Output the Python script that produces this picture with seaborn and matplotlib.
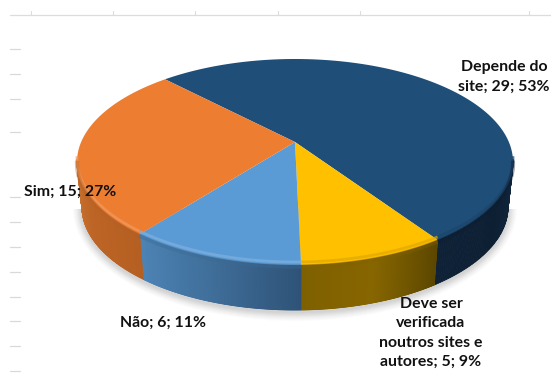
import numpy as np
import matplotlib
matplotlib.use("Agg")
import matplotlib.pyplot as plt
import seaborn as sns

# Clockwise order around the pie, starting at the navy slice
labels = ["Depende do\nsite; 29; 53%",
          "Deve ser\nverificada\nnoutros sites e\nautores; 5; 9%",
          "Não; 6; 11%", "Sim; 15; 27%"]
values = [29, 5, 6, 15]
colors = ["#1f4e79", "#ffc000", "#5b9bd5", "#ed7d31"]
wall_left = ["#0e2136", "#7f6000", "#4d84b6", "#cc7430"]
wall_mid = ["#0d1f33", "#876600", "#3f6e99", "#bd6526"]
wall_right = ["#11263d", "#5c4700", "#2f5378", "#b55f22"]
label_xy = [(504, 77), (431, 333), (163, 323), (70, 192)]
top_ticks = [31, 113, 195, 278, 360, 529]
left_ticks = [49, 74, 99, 132, 197, 222, 247, 272, 297, 321, 346, 371]

sns.set_theme(style="white")
plt.rcParams["font.family"] = ["Lato", "DejaVu Sans"]

fig = plt.figure(figsize=(5.51, 3.76), dpi=100)
ax = fig.add_axes([0, 0, 1, 1])
ax.set_xlim(0, 551)
ax.set_ylim(376, 0)
ax.axis("off")

cx, cy, rx, ry = 295, 162, 218, 103
bcx, bcy, brx, bry = 295, 207, 213, 103
c = 0.194
rotation = 1.3


def project(theta_deg):
    t = np.radians(theta_deg)
    u, v = np.cos(t), np.sin(t)
    den = 1 + c * v
    return u * np.sqrt(1 - c ** 2) / den, (v + c) / den


def blend(a, b, f):
    a = np.array(matplotlib.colors.to_rgb(a))
    b = np.array(matplotlib.colors.to_rgb(b))
    return tuple(a + (b - a) * f)


# Frame remnants
ax.plot([10, 551], [14.5, 14.5], color="#dcdcdc", lw=0.9)
for x in top_ticks:
    ax.plot([x, x], [11, 14.5], color="#dcdcdc", lw=0.8)
for y in left_ticks:
    ax.plot([10, 20], [y, y], color="#d9d9d9", lw=0.9)

# Soft shadow
t = np.linspace(np.pi, 2 * np.pi, 200)
for grow, alpha in zip(np.linspace(9, 1, 9), [0.02] * 4 + [0.035] * 5):
    ax.fill(bcx + (brx + grow) * np.cos(t), bcy + 2 - (bry + grow) * np.sin(t),
            color="#555555", alpha=alpha, lw=0, zorder=1)

# Slices run clockwise; the yellow/blue edge points almost straight down
shares = np.array(values) / sum(values) * 360
start = -90 + shares[1] + shares[0] + rotation
edges = start - np.r_[0, np.cumsum(shares)]

for i, val in enumerate(values):
    ang = np.linspace(edges[i], edges[i + 1], 300)
    pu, pv = project(ang)
    xs, ys = cx + rx * pu, cy - ry * pv
    mask = pv <= 0.03
    if mask.any():
        xt, yt = xs[mask], ys[mask]
        order = np.argsort(xt)
        xt, yt = xt[order], yt[order]
        xb = bcx + (xt - cx) * brx / rx
        yb = bcy + (yt - cy)
        n = len(xt) - 1
        for j in range(n):
            f = j / max(1, n - 1)
            col = (blend(wall_left[i], wall_mid[i], f * 2) if f < 0.5
                   else blend(wall_mid[i], wall_right[i], f * 2 - 1))
            ax.fill([xt[j], xt[j + 1], xb[j + 1], xb[j]],
                    [yt[j], yt[j + 1], yb[j + 1], yb[j]],
                    facecolor=col, edgecolor=col, lw=0.6, zorder=2)
    ax.fill(np.r_[cx, xs], np.r_[cy - ry * c, ys],
            color=colors[i], lw=0, zorder=3)
    if mask.any():
        xm, ym = xs[mask], ys[mask]
        light = blend(colors[i], "#ffffff", 0.22) if i in (2, 3) else blend(colors[i], "#000000", 0.12)
        ax.plot(xm, ym - 3, color=light, lw=2, alpha=0.7, zorder=4, solid_capstyle="butt")
        ax.plot(xm, ym + 1.5, color=blend(wall_mid[i], "#000000", 0.05), lw=3, alpha=0.4,
                zorder=4, solid_capstyle="butt")

for lab, (x, y) in zip(labels, label_xy):
    ax.text(x, y, lab, ha="center", va="center", fontsize=11.4, fontweight="bold",
            color="#111111", linespacing=1.5, zorder=6)

fig.savefig("out.png", dpi=100)
